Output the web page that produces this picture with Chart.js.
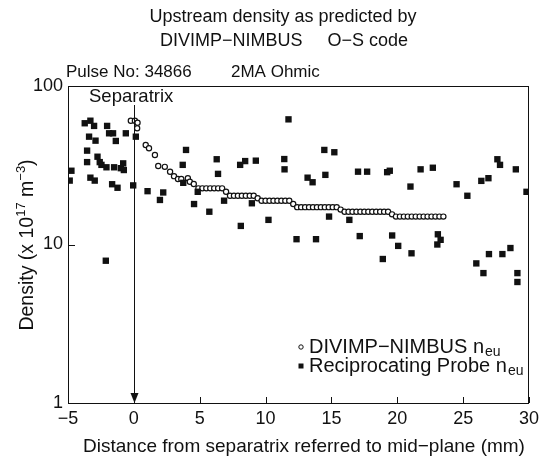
<!DOCTYPE html>
<html>
<head>
<meta charset="utf-8">
<script src="https://cdn.jsdelivr.net/npm/chart.js@4/dist/chart.umd.min.js"></script>
<style>
  html, body { margin: 0; padding: 0; background: #fff; }
  #wrap { width: 551px; height: 461px; }
</style>
</head>
<body>
<div id="wrap"><canvas id="chart" width="551" height="461"></canvas></div>
<script>
// DIVIMP-NIMBUS model (open circles)
const modelX = [-0.23, 0.08, 0.25, 0.28, 0.9, 1.15, 1.6, 1.85, 2.35, 2.75, 3.05, 3.35, 3.6, 4.1, 4.25, 4.55, 4.9,
  5.2, 5.5, 5.8, 6.1, 6.4, 6.7, 7.0,
  7.3, 7.6, 7.9, 8.2, 8.5, 8.8, 9.1, 9.4,
  9.7, 10.0, 10.3, 10.6, 10.9, 11.2, 11.5, 11.8, 12.1,
  12.4, 12.7, 13.0, 13.3, 13.6, 13.9, 14.2, 14.5, 14.8, 15.1, 15.4, 15.7,
  16.0, 16.3, 16.6, 16.9, 17.2, 17.5, 17.8, 18.1, 18.4, 18.7, 19.0, 19.3, 19.6,
  19.9, 20.2, 20.5, 20.8, 21.1, 21.4, 21.7, 22.0, 22.3, 22.6, 22.9, 23.2, 23.5];
const modelY = [60.4, 60.4, 54.1, 58.7, 42.4, 40.5, 36.7, 31.3, 30.9, 28.8, 27.0, 25.9, 25.9, 26.2, 24.9, 24.1, 22.6,
  22.6, 22.6, 22.6, 22.6, 22.6, 22.6, 21.5,
  20.3, 20.3, 20.3, 20.3, 20.3, 20.3, 20.3, 19.6,
  18.9, 18.9, 18.9, 18.9, 18.9, 18.9, 18.9, 18.9, 18.0,
  17.2, 17.2, 17.2, 17.2, 17.2, 17.2, 17.2, 17.2, 17.2, 17.2, 17.2, 16.6,
  16.1, 16.1, 16.1, 16.1, 16.1, 16.1, 16.1, 16.1, 16.1, 16.1, 16.1, 16.1, 15.5,
  15.0, 15.0, 15.0, 15.0, 15.0, 15.0, 15.0, 15.0, 15.0, 15.0, 15.0, 15.0, 15.0];

// Reciprocating probe (filled squares)
const probeX = [-4.87, -4.74, -3.73, -3.55, -3.55, -3.40, -3.30, -3.30, -3.02, -2.97, -2.91, -2.76, -2.59, -2.46,
  -2.13, -2.08, -2.03, -1.88, -1.65, -1.58, -1.50, -1.37, -1.24, -0.99, -0.81, -0.76, -0.61, -0.05, 0.15,
  1.04, 1.98, 2.23, 3.71, 3.75, 3.96, 4.57, 4.85, 5.73, 6.29, 6.39, 6.85, 8.07, 8.12, 8.45, 8.96, 9.26,
  10.22, 11.42, 11.44, 11.74, 12.35, 13.19, 13.57, 13.83, 14.46, 14.54, 14.82, 15.22, 16.36, 17.02, 17.15,
  17.71, 18.9, 19.23, 19.43, 19.61, 20.07, 21.0, 21.08, 21.77, 22.70, 23.04, 23.08, 23.29, 24.5, 25.32,
  26.0, 26.38, 26.54, 26.92, 26.96, 27.6, 27.8, 27.98, 28.59, 29.0, 29.12, 29.12, 29.81];
const probeY = [25.3, 29.2, 58.2, 39.1, 33.1, 47.9, 60.4, 26.4, 56.0, 25.3, 45.2, 35.8, 33.1, 31.8,
  7.9, 30.7, 56.0, 50.3, 24.0, 50.3, 30.7, 45.0, 22.8, 30.3, 32.5, 29.5, 50.3, 23.6, 47.9,
  21.7, 19.1, 21.3, 31.8, 24.5, 39.5, 18.0, 21.5, 16.1, 34.5, 27.9, 18.9, 31.8, 13.1, 33.6, 18.2, 33.8,
  14.3, 34.6, 29.8, 61.6, 10.8, 26.4, 24.7, 10.8, 39.5, 27.5, 15.0, 38.2, 14.3, 28.8, 11.3,
  28.8, 8.1, 28.6, 29.2, 11.4, 9.8, 23.2, 8.8, 29.8, 30.5, 10.0, 11.6, 10.7, 24.0, 20.3,
  7.6, 25.2, 6.6, 26.2, 8.7, 34.5, 31.8, 8.7, 9.5, 29.8, 6.6, 5.8, 21.5];

const xTicks = [-5, 0, 5, 10, 15, 20, 25, 30];
const yTicks = [1, 10, 100];

const FONT = '"Liberation Sans", Arial, Helvetica, sans-serif';
const MINUS = '\u2212';

function drawSub(ctx, x, y, main, sub, size) {
    ctx.font = size + 'px ' + FONT;
    ctx.fillText(main, x, y);
    const w = ctx.measureText(main).width;
    ctx.font = Math.round(size * 0.7) + 'px ' + FONT;
    ctx.fillText(sub, x + w + 1, y + 5);
}

const decorations = {
    id: 'decorations',
    afterDraw(chart) {
        const ctx = chart.ctx;
        const a = chart.chartArea;
        const xs = chart.scales.x;
        const ys = chart.scales.y;
        ctx.save();
        ctx.strokeStyle = '#111';
        ctx.fillStyle = '#111';
        ctx.lineWidth = 1;

        // frame
        ctx.strokeRect(a.left + 0.5, a.top + 0.5, a.right - a.left - 1, a.bottom - a.top);

        // inward ticks
        ctx.beginPath();
        xTicks.forEach(v => {
            const px = Math.round(xs.getPixelForValue(v)) + 0.5;
            ctx.moveTo(px, a.bottom);
            ctx.lineTo(px, a.bottom - 6);
        });
        yTicks.forEach(v => {
            const py = Math.round(ys.getPixelForValue(v)) + 0.5;
            ctx.moveTo(a.left, py);
            ctx.lineTo(a.left + 7, py);
        });
        ctx.stroke();

        // separatrix line with arrow
        const sx = Math.round(xs.getPixelForValue(0)) + 0.5;
        ctx.beginPath();
        ctx.moveTo(sx, a.top + 19);
        ctx.lineTo(sx, a.bottom - 8);
        ctx.stroke();
        ctx.beginPath();
        ctx.moveTo(sx, a.bottom);
        ctx.lineTo(sx - 4, a.bottom - 10);
        ctx.lineTo(sx + 4, a.bottom - 10);
        ctx.closePath();
        ctx.fill();
        ctx.font = '18.5px ' + FONT;
        ctx.textAlign = 'left';
        ctx.textBaseline = 'middle';
        ctx.fillText('Separatrix', 89, a.top + 11);

        // titles
        ctx.textAlign = 'center';
        ctx.font = '18px ' + FONT;
        ctx.fillText('Upstream density as predicted by', 283, 17);
        ctx.fillText('DIVIMP' + MINUS + 'NIMBUS     O' + MINUS + 'S code', 284, 41);
        ctx.textAlign = 'left';
        ctx.font = '17px ' + FONT;
        ctx.fillText('Pulse No: 34866', 66, 72);
        ctx.fillText('2MA Ohmic', 231, 72);

        // x axis title
        ctx.textAlign = 'center';
        ctx.font = '19px ' + FONT;
        ctx.fillText('Distance from separatrix referred to mid' + MINUS + 'plane (mm)', 304, 447);

        // y axis title with superscripts
        ctx.translate(28, 245);
        ctx.rotate(-Math.PI / 2);
        const parts = [
            ['Density (x 10', 19.5, 0], ['17', 13, -7], [' m', 19.5, 0], [MINUS + '3', 13, -7], [')', 19.5, 0]
        ];
        let total = 0;
        parts.forEach(p => { ctx.font = p[1] + 'px ' + FONT; total += ctx.measureText(p[0]).width; });
        let cx = -total / 2;
        ctx.textAlign = 'left';
        parts.forEach(p => {
            ctx.font = p[1] + 'px ' + FONT;
            ctx.fillText(p[0], cx, p[2]);
            cx += ctx.measureText(p[0]).width;
        });
        ctx.setTransform(1, 0, 0, 1, 0, 0);

        // legend
        ctx.beginPath();
        ctx.arc(301, 347, 2.2, 0, Math.PI * 2);
        ctx.fillStyle = '#fff';
        ctx.fill();
        ctx.stroke();
        ctx.fillStyle = '#111';
        ctx.fillRect(298.5, 363.5, 5, 5);
        ctx.textBaseline = 'middle';
        drawSub(ctx, 309, 347, 'DIVIMP' + MINUS + 'NIMBUS n', 'eu', 20);
        drawSub(ctx, 309, 366, 'Reciprocating Probe n', 'eu', 20);
        ctx.restore();
    }
};

new Chart(document.getElementById('chart'), {
    type: 'scatter',
    data: {
        datasets: [
            {
                label: 'Reciprocating Probe',
                data: probeX.map((x, i) => ({ x: x, y: probeY[i] })),
                pointStyle: 'rect',
                pointRadius: 4.5,
                backgroundColor: '#111',
                borderColor: '#111',
                borderWidth: 0
            },
            {
                label: 'DIVIMP-NIMBUS',
                data: modelX.map((x, i) => ({ x: x, y: modelY[i] })),
                pointStyle: 'circle',
                pointRadius: 2.6,
                backgroundColor: '#fff',
                borderColor: '#111',
                borderWidth: 1.2
            }
        ]
    },
    options: {
        responsive: false,
        animation: false,
        layout: { padding: { top: 86, right: 22, left: 0, bottom: 0 } },
        plugins: {
            legend: { display: false },
            tooltip: { enabled: false },
            title: { display: false }
        },
        scales: {
            x: {
                type: 'linear',
                min: -5,
                max: 30,
                afterBuildTicks: s => { s.ticks = xTicks.map(v => ({ value: v })); },
                afterFit: s => { s.height = 58; },
                grid: { display: false, drawTicks: false },
                border: { display: false },
                ticks: {
                    padding: 5,
                    color: '#111',
                    font: { family: FONT, size: 18 },
                    callback: v => String(v).replace('-', MINUS)
                }
            },
            y: {
                type: 'logarithmic',
                min: 1,
                max: 100,
                afterBuildTicks: s => { s.ticks = yTicks.map(v => ({ value: v })); },
                afterFit: s => { s.width = 68; },
                grid: { display: false, drawTicks: false },
                border: { display: false },
                ticks: {
                    padding: 5,
                    color: '#111',
                    font: { family: FONT, size: 18 },
                    callback: v => String(v)
                }
            }
        }
    },
    plugins: [decorations]
});
</script>
</body>
</html>
